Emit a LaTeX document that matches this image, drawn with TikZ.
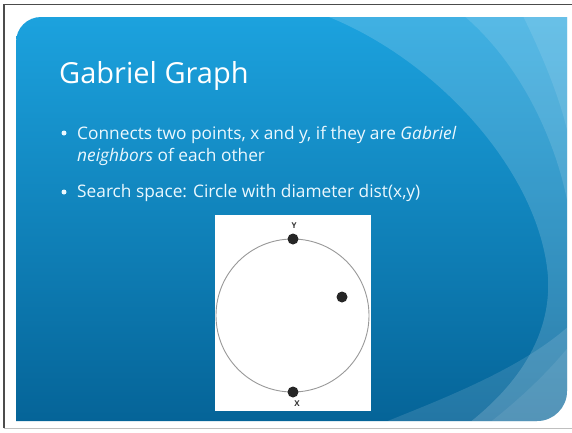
\documentclass[tikz,border=0pt]{standalone}
\usepackage{fontspec}
\setmainfont{Open Sans}
\begin{document}
\begin{tikzpicture}[x=1pt,y=-1pt,
  dot/.style={circle,fill=black!85,inner sep=0pt,minimum size=11pt},
  lbl/.style={font=\fontsize{8}{9}\selectfont\bfseries,text=black!80,inner sep=0pt},
  body/.style={anchor=base west,inner sep=0pt,text=white!92!cyan,font=\fontsize{17.3}{20}\selectfont},
  bul/.style={circle,fill=white!92!cyan,inner sep=0pt,minimum size=5pt}]
\useasboundingbox (0,0) rectangle (572,432);
\fill[white] (0,0) rectangle (572,432);
% frame
\draw[black!70,line width=1.5pt] (4,428) -- (4,4.5) -- (572,4.5);
\draw[black!25,line width=0.8pt] (4,428) -- (572,428);
% blue slide background
\begin{scope}
\clip (16,421) -- (16,42) arc[start angle=180,end angle=270,radius=25] -- (567,17) -- (567,391) arc[start angle=0,end angle=90,radius=30] -- cycle;
\shade[top color={rgb,255:red,28;green,162;blue,222},bottom color={rgb,255:red,5;green,100;blue,152}] (16,17) rectangle (567,421);
% lighter right region
\fill[white,opacity=0.16] (310,10) .. controls (430,50) and (540,170) .. (548,277)
  .. controls (552,350) and (500,400) .. (460,430) -- (580,430) -- (580,10) -- cycle;
\fill[white,opacity=0.12] (457,10) .. controls (520,60) and (555,140) .. (567,200) -- (580,200) -- (580,10) -- cycle;
\fill[white,opacity=0.10] (520,10) .. controls (545,60) and (560,100) .. (567,130) -- (580,130) -- (580,10) -- cycle;
\fill[white,opacity=0.12] (365,430) .. controls (440,400) and (520,370) .. (570,325) -- (580,325) -- (580,430) -- cycle;
\fill[white,opacity=0.08] (480,430) .. controls (520,400) and (550,370) .. (570,345) -- (580,345) -- (580,430) -- cycle;
\end{scope}
% title
\node[anchor=base west,inner sep=0pt,text=white,font=\fontsize{29}{33}\selectfont] (title) at (59,83) {Gabriel Graph};
% bullets
\node[bul] (b1) at (64,133) {};
\node[body] (t1) at (77,139) {Connects two points, x and y, if they are \textit{Gabriel}};
\node[body] (t2) at (77,161) {\textit{neighbors} of each other};
\node[bul] (b2) at (64,192) {};
\node[body] (t3) at (77,197) {Search space: Circle with diameter dist(x,y)};
% figure
\fill[white] (215,215) rectangle (371,411);
\node[draw=black!40,line width=0.9pt,circle,minimum size=153pt,inner sep=0pt] (circ) at (292.5,315.5) {};
\node[dot] (y) at (293,239) {};
\node[dot] (x) at (293,392) {};
\node[dot] (z) at (342,297) {};
\node[lbl] (ly) at (294,226) {Y};
\node[lbl] (lx) at (297,404) {X};
\end{tikzpicture}
\end{document}
